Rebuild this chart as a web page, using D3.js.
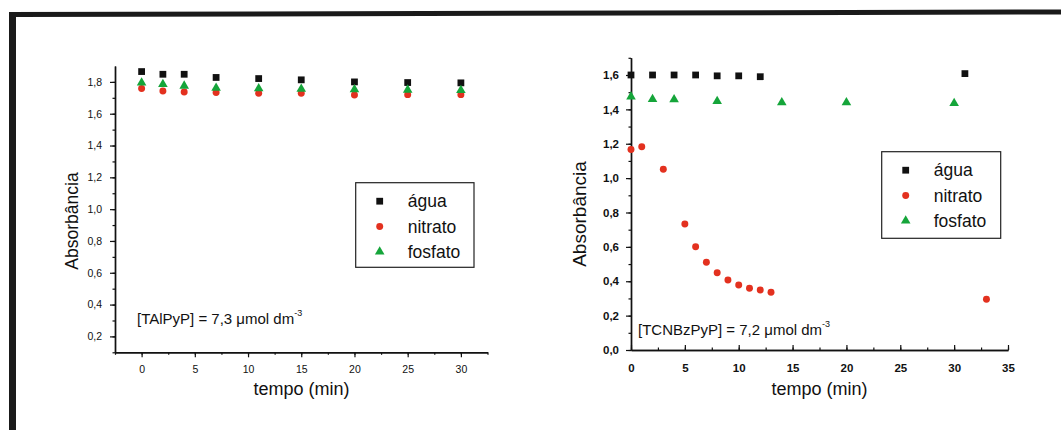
<!DOCTYPE html>
<html>
<head>
<meta charset="utf-8">
<script src="https://cdn.jsdelivr.net/npm/d3@7"></script>
<style>
  body { margin: 0; background: #fff; }
  svg { display: block; font-family: "Liberation Sans", Arial, sans-serif; }
</style>
</head>
<body>
<div id="chart"></div>
<script>
// Dados
const serieNomes = ['água', 'nitrato', 'fosfato'];

// painel esquerdo: TAlPyP
const tempoA = [0, 2, 4, 7, 11, 15, 20, 25, 30];
const aguaA = [1.865, 1.848, 1.848, 1.828, 1.821, 1.813, 1.80, 1.796, 1.794];
const nitratoA = [1.758, 1.743, 1.737, 1.733, 1.729, 1.729, 1.718, 1.72, 1.72];
const fosfatoA = [1.795, 1.785, 1.775, 1.762, 1.758, 1.755, 1.752, 1.75, 1.748];

// painel direito: TCNBzPyP
const tempoAguaB = [0, 2, 4, 6, 8, 10, 12, 31];
const aguaB = [1.60, 1.60, 1.60, 1.60, 1.595, 1.595, 1.59, 1.608];
const tempoNitratoB = [0, 1, 3, 5, 6, 7, 8, 9, 10, 11, 12, 13, 33];
const nitratoB = [1.167, 1.183, 1.051, 0.733, 0.601, 0.51, 0.45, 0.407, 0.378, 0.359, 0.349, 0.336, 0.295];
const tempoFosfatoB = [0, 2, 4, 8, 14, 20, 30];
const fosfatoB = [1.474, 1.459, 1.457, 1.447, 1.44, 1.44, 1.436];

// ticks
const xTicksA = [0, 5, 10, 15, 20, 25, 30];
const yTicksA = [0.2, 0.4, 0.6, 0.8, 1.0, 1.2, 1.4, 1.6, 1.8];
const xTicksB = [0, 5, 10, 15, 20, 25, 30, 35];
const yTicksB = [0.0, 0.2, 0.4, 0.6, 0.8, 1.0, 1.2, 1.4, 1.6];

const W = 1061, H = 430;
const cores = { 'água': '#111', 'nitrato': '#e3311f', 'fosfato': '#15a53a' };
const simbolos = { 'água': d3.symbolSquare, 'nitrato': d3.symbolCircle, 'fosfato': d3.symbolTriangle };
const tamanhos = { 'água': 46, 'nitrato': 38, 'fosfato': 40 };
const virgula = d => d3.format('.1f')(d).replace('.', ',');

const svg = d3.select('#chart').append('svg')
    .attr('width', W).attr('height', H).attr('viewBox', `0 0 ${W} ${H}`);

// moldura preta (topo e esquerda)
svg.append('path')
    .attr('d', 'M9,430 L9,12 L1061,9.5 L1061,14.5 L16,17 L16,430 Z')
    .attr('fill', '#1a1a1a');

// Desenha um painel
function painel(cfg) {
    const g = svg.append('g');
    const x = d3.scaleLinear(cfg.xDom, cfg.xRange);
    const y = d3.scaleLinear(cfg.yDom, cfg.yRange);

    // ticks menores
    const xMenor = d3.range(cfg.xDom[0], cfg.xDom[1] + 0.01, 2.5);
    const yMenor = d3.range(0, 19).map(i => +(i * 0.1).toFixed(1))
        .filter(v => v >= cfg.yDom[0] - 1e-6 && v <= cfg.yDom[1] + 1e-6);

    g.append('g').attr('transform', `translate(0,${cfg.yRange[0]})`)
        .call(d3.axisBottom(x).tickValues(xMenor).tickFormat('')
            .tickSizeInner(cfg.xTickIn ? -2.5 : 2.5).tickSizeOuter(0));
    g.append('g').attr('transform', `translate(${cfg.xRange[0]},0)`)
        .call(d3.axisLeft(y).tickValues(yMenor).tickFormat('').tickSizeInner(2.5).tickSizeOuter(0));

    // ticks maiores
    const ax = g.append('g').attr('transform', `translate(0,${cfg.yRange[0]})`)
        .call(d3.axisBottom(x).tickValues(cfg.xTicks).tickFormat(d3.format('d'))
            .tickSizeInner(cfg.xTickIn ? -5 : 5).tickSizeOuter(0).tickPadding(cfg.xTickIn ? 14 : 8));
    const ay = g.append('g').attr('transform', `translate(${cfg.xRange[0]},0)`)
        .call(d3.axisLeft(y).tickValues(cfg.yTicks).tickFormat(virgula)
            .tickSizeInner(5).tickSizeOuter(0).tickPadding(cfg.yPad));

    g.selectAll('.domain').attr('stroke', '#111').attr('stroke-width', 1.4);
    g.selectAll('.tick line').attr('stroke', '#111').attr('stroke-width', 1.2);
    [ax, ay].forEach(a => a.selectAll('text')
        .attr('fill', '#111')
        .attr('font-family', '"Liberation Sans", Arial, sans-serif')
        .attr('font-size', cfg.tickFont)
        .attr('font-weight', cfg.tickBold ? 'bold' : 'normal'));

    // títulos dos eixos
    g.append('text')
        .attr('x', cfg.xLabel[0]).attr('y', cfg.xLabel[1])
        .attr('text-anchor', 'middle').attr('font-size', 18).attr('fill', '#111')
        .text('tempo (min)');
    g.append('text')
        .attr('transform', `translate(${cfg.yLabel[0]},${cfg.yLabel[1]}) rotate(-90)`)
        .attr('text-anchor', 'middle').attr('font-size', cfg.yLabelFont).attr('fill', '#111')
        .text('Absorbância');

    // pontos
    cfg.series.forEach(s => {
        g.append('g').selectAll('path')
            .data(s.t.map((t, i) => ({ t, v: s.v[i] })))
            .join('path')
            .attr('transform', d => `translate(${x(d.t)},${y(d.v)})`)
            .attr('d', d3.symbol(simbolos[s.nome], tamanhos[s.nome]))
            .attr('fill', cores[s.nome]);
    });

    // legenda
    const [lx, ly, lw, lh] = cfg.legenda;
    const lg = g.append('g').attr('transform', `translate(${lx},${ly})`);
    lg.append('rect').attr('width', lw).attr('height', lh)
        .attr('fill', 'none').attr('stroke', '#222').attr('stroke-width', 1.2);
    serieNomes.forEach((n, i) => {
        const yy = 18.5 + i * 25.3;
        lg.append('path').attr('transform', `translate(24,${yy})`)
            .attr('d', d3.symbol(simbolos[n], tamanhos[n]))
            .attr('fill', cores[n]);
        lg.append('text').attr('x', 52).attr('y', yy).attr('dy', '0.35em')
            .attr('font-size', 17.5).attr('fill', '#111').text(n);
    });

    // concentração
    const t = g.append('text').attr('x', cfg.nota[0]).attr('y', cfg.nota[1])
        .attr('font-size', 15).attr('fill', '#111');
    t.append('tspan').text(cfg.notaTexto + ' μmol dm');
    t.append('tspan').attr('dy', -8).attr('font-size', 9).text('-3');
}

painel({
    xDom: [-2.5, 32.5], xRange: [115, 487.5],
    yDom: [0.1, 1.9], yRange: [352.3, 66],
    xTicks: xTicksA, yTicks: yTicksA, xTickIn: false,
    tickFont: 10.5, tickBold: false, yPad: 8,
    xLabel: [301.5, 395], yLabel: [78, 221], yLabelFont: 17.5,
    series: [
        { nome: 'água', t: tempoA, v: aguaA },
        { nome: 'nitrato', t: tempoA, v: nitratoA },
        { nome: 'fosfato', t: tempoA, v: fosfatoA }
    ],
    legenda: [355.7, 182.7, 118.3, 84.6],
    nota: [137, 324], notaTexto: '[TAlPyP] = 7,3'
});

painel({
    xDom: [0, 35], xRange: [631, 1008],
    yDom: [0, 1.7], yRange: [350, 57.8],
    xTicks: xTicksB, yTicks: yTicksB, xTickIn: true,
    tickFont: 11.5, tickBold: true, yPad: 7,
    xLabel: [819.5, 395], yLabel: [586, 214], yLabelFont: 19,
    series: [
        { nome: 'água', t: tempoAguaB, v: aguaB },
        { nome: 'nitrato', t: tempoNitratoB, v: nitratoB },
        { nome: 'fosfato', t: tempoFosfatoB, v: fosfatoB }
    ],
    legenda: [881.7, 151.7, 119, 86.6],
    nota: [638, 335], notaTexto: '[TCNBzPyP] = 7,2'
});
</script>
</body>
</html>
